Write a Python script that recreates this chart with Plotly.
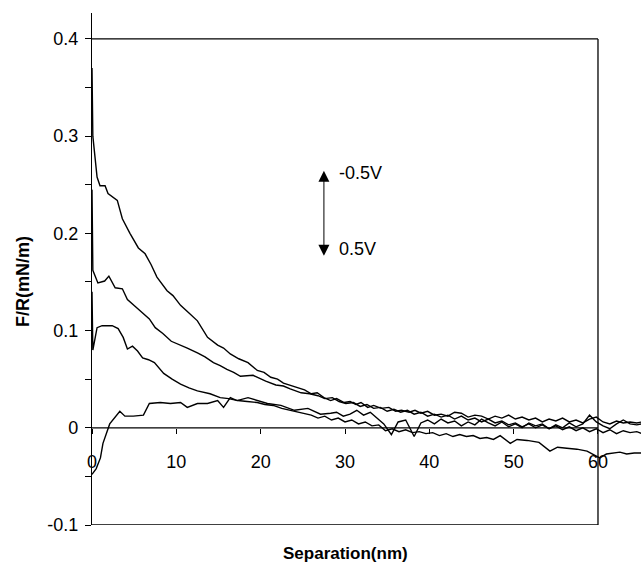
import plotly.graph_objects as go

# Curve A (top, -0.5 V)
a_x = [0, 0.1, 0.6, 0.95, 1.55, 1.9, 3.0, 3.6, 4.5, 5.5, 6.3, 7.0, 7.7, 8.9, 9.6, 10.5, 11.5, 12.5, 13.7, 14.9, 15.6,
       16.4, 17.4, 18.5, 19.6, 20.4, 21.2, 22.0, 22.7, 23.5, 24.4, 25.2, 26.0, 26.7, 27.5, 28.3, 29.0, 29.9, 30.6, 31.3,
       31.9, 32.7, 33.4, 34.3, 35.2, 36.0, 36.7, 37.6, 38.3, 39.0, 39.8, 40.6, 41.4, 42.2, 43.0, 43.8, 44.6, 45.4, 46.2,
       47.0, 47.8, 48.6, 49.4, 50.2, 51.0, 51.8, 52.6, 53.4, 54.2, 55.0, 55.8, 56.6, 57.4, 58.2, 59.0, 59.8, 60.6, 61.4,
       62.2, 63.0, 63.8, 64.6, 65.2]
a_y = [0.370, 0.300, 0.258, 0.249, 0.249, 0.241, 0.234, 0.215, 0.200, 0.185, 0.179, 0.168, 0.155, 0.141, 0.136, 0.126,
       0.118, 0.110, 0.093, 0.085, 0.082, 0.076, 0.071, 0.067, 0.059, 0.057, 0.052, 0.050, 0.046, 0.044, 0.041, 0.039,
       0.035, 0.036, 0.031, 0.028, 0.030, 0.026, 0.027, 0.024, 0.026, 0.021, 0.023, 0.020, 0.021, 0.017, 0.018, 0.016,
       0.018, 0.015, 0.017, 0.013, 0.014, 0.012, 0.016, 0.015, 0.011, 0.013, 0.012, 0.009, 0.012, 0.010, 0.013, 0.009,
       0.011, 0.008, 0.010, 0.006, 0.009, 0.007, 0.010, 0.006, 0.008, 0.005, 0.009, 0.011, 0.006, 0.004, 0.007, 0.005,
       0.006, 0.005, 0.006]

# Curve B
b_x = [0, 0.1, 0.7, 1.5, 2.0, 2.75, 3.6, 4.2, 5.1, 6.1, 6.8, 7.5, 8.4, 9.4, 10.3, 11.3, 12.5, 13.4, 14.4, 15.2, 16.0,
       16.8, 17.6, 19.1, 20.6, 21.8, 22.7, 23.5, 24.8, 25.8, 26.8, 27.6, 28.5, 29.3, 30.1, 31.0, 31.8, 32.6, 33.4, 34.2,
       35.0, 35.8, 36.6, 37.4, 38.2, 39.0, 39.8, 40.6, 41.4, 42.2, 43.0, 43.8, 44.6, 45.4, 46.2, 47.0, 47.8, 48.6, 49.4,
       50.2, 51.0, 51.8, 52.6, 53.4, 54.2, 55.0, 55.8, 56.6, 57.4, 58.2, 59.0, 59.8, 60.6, 61.4, 62.2, 63.0, 63.8, 64.6,
       65.2]
b_y = [0.245, 0.162, 0.149, 0.151, 0.156, 0.144, 0.143, 0.132, 0.125, 0.117, 0.112, 0.103, 0.097, 0.089, 0.086, 0.082,
       0.077, 0.073, 0.067, 0.064, 0.060, 0.057, 0.053, 0.054, 0.048, 0.044, 0.043, 0.040, 0.036, 0.035, 0.033, 0.030,
       0.031, 0.027, 0.025, 0.026, 0.022, 0.024, 0.020, 0.021, 0.017, 0.019, 0.016, 0.018, 0.014, 0.016, 0.012, 0.014,
       0.011, 0.013, 0.009, 0.012, 0.008, 0.010, 0.006, 0.009, 0.005, 0.007, 0.003, 0.005, 0.001, 0.004, 0.000, 0.003,
       -0.001, 0.002, -0.002, 0.001, -0.003, 0.000, -0.004, -0.001, -0.005, -0.002, -0.006, -0.003, -0.005, -0.004,
       -0.006]

# Curve C
c_x = [0, 0.1, 0.6, 1.2, 2.4, 3.1, 3.7, 4.2, 4.8, 5.4, 6.0, 6.7, 7.4, 8.5, 9.5, 10.5, 11.5, 12.5, 14.0, 15.2, 16.2,
       17.3, 18.4, 19.6, 20.5, 21.5, 22.5, 23.6, 25.1, 26.0, 26.8, 27.6, 28.4, 29.2, 30.0, 30.8, 31.6, 32.4, 33.2, 34.0,
       34.8, 35.6, 36.4, 37.2, 38.0, 38.8, 39.6, 40.4, 41.2, 42.0, 42.8, 43.6, 44.4, 45.2, 46.0, 46.8, 47.6, 48.4, 49.6,
       50.4, 51.6, 53.0, 54.3, 55.2, 56.3, 57.5, 58.7, 60.2, 61.0, 61.8, 62.6, 63.4, 64.3, 65.2]
c_y = [0.140, 0.080, 0.103, 0.105, 0.105, 0.102, 0.093, 0.081, 0.084, 0.079, 0.072, 0.070, 0.067, 0.056, 0.050, 0.045,
       0.041, 0.038, 0.035, 0.031, 0.030, 0.028, 0.027, 0.026, 0.024, 0.023, 0.020, 0.018, 0.015, 0.013, 0.010, 0.012,
       0.008, 0.010, 0.006, 0.008, 0.004, 0.006, 0.002, 0.003, -0.003, -0.001, -0.004, -0.002, -0.005, -0.004, -0.006,
       -0.005, -0.008, -0.006, -0.009, -0.007, -0.009, -0.008, -0.011, -0.010, -0.012, -0.008, -0.016, -0.012, -0.013,
       -0.015, -0.024, -0.020, -0.021, -0.022, -0.024, -0.031, -0.027, -0.026, -0.025, -0.027, -0.026, -0.026]

# Curve D (bottom, 0.5 V)
d_x = [0, 0.5, 1.0, 1.3, 2.1, 2.7, 3.3, 3.9, 4.9, 6.1, 6.8, 8.1, 9.3, 10.5, 11.3, 12.5, 13.7, 14.9, 15.6, 16.4, 17.2,
       18.5, 19.6, 20.8, 22.4, 24.0, 25.6, 27.1, 28.3, 29.0, 29.8, 30.6, 31.4, 32.2, 33.0, 33.8, 34.6, 35.5, 36.3, 37.2,
       38.2, 39.0, 39.8, 40.6, 41.4, 42.2, 43.0, 43.8, 44.6, 45.4, 46.2, 47.0, 47.8, 48.6, 49.4, 50.2, 51.0, 51.8, 52.6,
       53.4, 54.2, 55.0, 55.8, 56.6, 57.4, 58.2, 59.0, 59.8, 60.6, 61.4, 62.2, 63.0, 63.8, 64.6, 65.2]
d_y = [-0.048, -0.042, -0.031, -0.016, 0.004, 0.011, 0.017, 0.012, 0.012, 0.013, 0.025, 0.026, 0.025, 0.026, 0.021,
       0.025, 0.025, 0.028, 0.021, 0.031, 0.028, 0.031, 0.028, 0.025, 0.023, 0.018, 0.020, 0.014, 0.015, 0.016, 0.012,
       0.014, 0.018, 0.013, 0.016, 0.010, 0.004, -0.007, 0.006, 0.008, -0.009, 0.005, 0.008, 0.004, 0.009, 0.005, 0.007,
       0.002, 0.006, 0.003, 0.009, 0.005, 0.002, 0.006, 0.001, 0.004, 0.000, 0.005, 0.002, 0.004, -0.001, 0.003, 0.000,
       0.005, 0.001, 0.004, 0.013, 0.006, 0.002, -0.001, 0.004, 0.008, 0.004, 0.003, 0.004]

y_tick_vals = [-0.1, 0, 0.1, 0.2, 0.3, 0.4]
y_tick_text = ["-0.1", "0", "0.1", "0.2", "0.3", "0.4"]
y_minor_vals = [-0.05, 0.05, 0.15, 0.25, 0.35]
x_tick_vals = [0, 10, 20, 30, 40, 50, 60]
x_tick_text = ["0", "10", "20", "30", "40", "50", "60"]

X_MAX = 65.1
Y_MIN, Y_MAX = -0.1, 0.4267
BOX_X1, BOX_Y1 = 60, 0.4

fig = go.Figure()
for xs, ys in [(a_x, a_y), (b_x, b_y), (c_x, c_y), (d_x, d_y)]:
    fig.add_trace(go.Scatter(x=xs, y=ys, mode="lines", line=dict(color="black", width=1.4),
                             showlegend=False, hoverinfo="skip"))

font = "Liberation Sans, Arial, sans-serif"
fig.update_layout(
    width=641, height=567,
    margin=dict(l=92, r=0, t=13, b=42),
    paper_bgcolor="white", plot_bgcolor="white",
    font=dict(family=font, color="black", size=18),
    xaxis=dict(range=[0, X_MAX], showgrid=False, zeroline=False, showline=False,
               tickvals=x_tick_vals, ticktext=x_tick_text, ticks="outside", ticklen=5,
               tickcolor="black", anchor="free", position=(0 - Y_MIN) / (Y_MAX - Y_MIN),
               ticklabelstandoff=13, tickfont=dict(size=18)),
    yaxis=dict(range=[Y_MIN, Y_MAX], showgrid=False, zeroline=False, showline=True,
               linecolor="black", linewidth=1.3, tickvals=y_tick_vals, ticktext=y_tick_text,
               ticks="outside", ticklen=6, tickcolor="black",
               minor=dict(tickvals=y_minor_vals, ticks="outside", ticklen=6, tickcolor="black"),
               ticklabelstandoff=3, tickfont=dict(size=18)),
)

# box and zero line
for (x0, y0, x1, y1) in [(0, BOX_Y1, BOX_X1, BOX_Y1), (BOX_X1, Y_MIN, BOX_X1, BOX_Y1),
                         (0, Y_MIN, BOX_X1, Y_MIN), (0, 0, BOX_X1, 0)]:
    fig.add_shape(type="line", x0=x0, y0=y0, x1=x1, y1=y1, xref="x", yref="y",
                  line=dict(color="black", width=1.3), layer="below")

# arrow annotation
fig.add_annotation(x=27.5, y=0.177, ax=27.5, ay=0.266, xref="x", yref="y", axref="x", ayref="y",
                   showarrow=True, arrowhead=2, startarrowhead=2, arrowside="end+start",
                   arrowsize=2.2, startarrowsize=2.2, arrowwidth=1, arrowcolor="black", text="")
fig.add_annotation(x=29.0, y=0.262, xref="x", yref="y", text="-0.5V", showarrow=False,
                   xanchor="left", yanchor="middle", font=dict(size=18))
fig.add_annotation(x=29.0, y=0.184, xref="x", yref="y", text="0.5V", showarrow=False,
                   xanchor="left", yanchor="middle", font=dict(size=18))

# axis titles
fig.add_annotation(x=30, y=0, xref="x", yref="paper", yshift=-28, text="<b>Separation(nm)</b>",
                   showarrow=False, xanchor="center", yanchor="middle", font=dict(size=17))
fig.add_annotation(x=0, y=(0.15 - Y_MIN) / (Y_MAX - Y_MIN), xref="paper", yref="paper", xshift=-69,
                   text="<b>F/R(mN/m)</b>", textangle=-90, showarrow=False,
                   xanchor="center", yanchor="middle", font=dict(size=18))

fig.write_html("out.html")
